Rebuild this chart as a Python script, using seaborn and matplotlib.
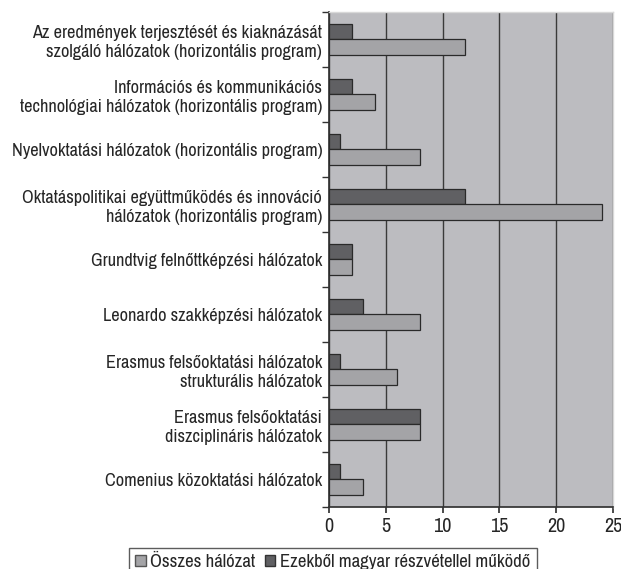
import matplotlib
matplotlib.use("Agg")
import matplotlib.pyplot as plt
import seaborn as sns
import pandas as pd
import numpy as np
from matplotlib.patches import Patch

categories = [
    "Az eredmények terjesztését és kiaknázását\nszolgáló hálózatok (horizontális program)",
    "Információs és kommunikációs\ntechnológiai hálózatok (horizontális program)",
    "Nyelvoktatási hálózatok (horizontális program)",
    "Oktatáspolitikai együttműködés és innováció\nhálózatok (horizontális program)",
    "Grundtvig felnőttképzési hálózatok",
    "Leonardo szakképzési hálózatok",
    "Erasmus felsőoktatási hálózatok\nstrukturális hálózatok",
    "Erasmus felsőoktatási\ndiszciplináris hálózatok",
    "Comenius közoktatási hálózatok",
]
osszes = [12, 4, 8, 24, 2, 8, 6, 8, 3]
magyar = [2, 2, 1, 12, 2, 3, 1, 8, 1]
series_names = ["Összes hálózat", "Ezekből magyar részvétellel működő"]
xticks = [0, 5, 10, 15, 20, 25]

sns.set_theme(style="white")
plt.rcParams["font.family"] = ["Archivo Narrow", "DejaVu Sans"]

df = pd.DataFrame({
    "cat": categories * 2,
    "val": magyar + osszes,
    "series": [series_names[1]] * len(categories) + [series_names[0]] * len(categories),
})

light = "#a4a4a7"
dark = "#606063"
bg = "#bcbcc0"

fig = plt.figure(figsize=(6.21, 5.69), dpi=100)
ax = fig.add_axes([0.530, 0.109, 0.457, 0.870])
ax.set_facecolor(bg)

sns.barplot(data=df, y="cat", x="val", hue="series", order=categories,
            hue_order=[series_names[1], series_names[0]],
            palette=[dark, light], orient="h", width=0.56,
            edgecolor="#2a2a2a", linewidth=0.9, ax=ax, legend=False, zorder=3)

ax.set_xlim(0, 25)
ax.set_ylim(len(categories) - 0.5, -0.5)
ax.set_xticks(xticks)
ax.set_xticklabels([str(t) for t in xticks], fontsize=14.5)
ax.xaxis.grid(True, color="#3a3a3a", linewidth=1.0, zorder=1)
ax.set_axisbelow(True)
ax.set_xlabel("")
ax.set_ylabel("")
ax.tick_params(axis="y", length=0, labelsize=13.2, pad=5)
ax.tick_params(axis="x", length=4, color="#333333", pad=3)
ax.set_yticks(np.arange(len(categories) + 1) - 0.5, minor=True)
ax.tick_params(axis="y", which="minor", length=5, color="#333333", left=True)
ax.tick_params(axis="x", which="both", bottom=True)
for lbl in ax.get_yticklabels():
    lbl.set_horizontalalignment("right")
    lbl.set_multialignment("right")
    lbl.set_linespacing(1.2)

for side in ["top", "right"]:
    ax.spines[side].set_color("#d8d8d8")
    ax.spines[side].set_linewidth(1.0)
ax.spines["left"].set_color("#333333")
ax.spines["bottom"].set_color("#333333")

handles = [Patch(facecolor=light, edgecolor="#555555", label=series_names[0]),
           Patch(facecolor=dark, edgecolor="#333333", label=series_names[1])]
leg = fig.legend(handles=handles, loc="lower center", bbox_to_anchor=(0.536, -0.024),
                 ncol=2, frameon=True, fontsize=13.5, handlelength=0.55, handleheight=0.55,
                 handletextpad=0.25, columnspacing=0.5, borderpad=0.35, borderaxespad=0.3,
                 fancybox=False)
leg.get_frame().set_edgecolor("#333333")
leg.get_frame().set_linewidth(1.0)

fig.savefig("out.png", dpi=100, facecolor="white")
